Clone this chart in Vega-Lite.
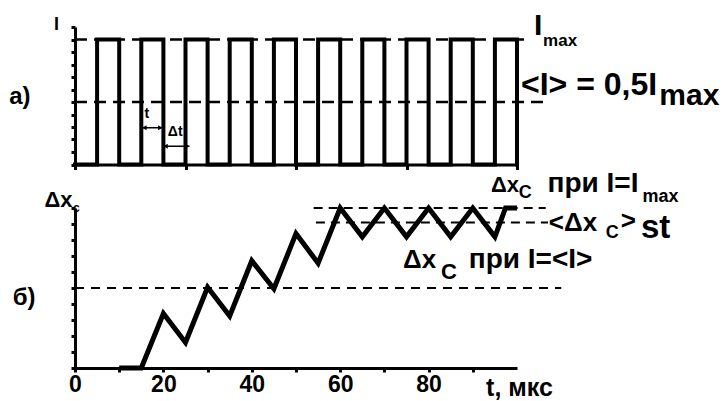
{
  "$schema": "https://vega.github.io/schema/vega-lite/v6.json",
  "background": "white",
  "padding": {"left": 9, "top": 10, "right": 0, "bottom": 0},
  "spacing": 43,
  "bounds": "flush",
  "config": {
    "view": {"stroke": null},
    "font": "Liberation Sans",
    "axis": {"grid": false, "domainColor": "black", "tickColor": "black", "domainWidth": 3, "tickWidth": 3, "labelColor": "black", "labelFont": "Liberation Sans", "labelFontWeight": "bold", "labelFontSize": 23, "title": null, "labelFlush": false, "labelOverlap": false},
    "text": {"font": "Liberation Sans", "fontWeight": "bold", "color": "black", "align": "left", "baseline": "alphabetic"}
  },
  "datasets": {
    "pulses": [
      {"i": 0, "t": 0, "v": 0}, {"i": 1, "t": 5, "v": 0}, {"i": 2, "t": 5, "v": 10}, {"i": 3, "t": 10, "v": 10}, {"i": 4, "t": 10, "v": 0},
      {"i": 5, "t": 15, "v": 0}, {"i": 6, "t": 15, "v": 10}, {"i": 7, "t": 20, "v": 10}, {"i": 8, "t": 20, "v": 0},
      {"i": 9, "t": 25, "v": 0}, {"i": 10, "t": 25, "v": 10}, {"i": 11, "t": 30, "v": 10}, {"i": 12, "t": 30, "v": 0},
      {"i": 13, "t": 35, "v": 0}, {"i": 14, "t": 35, "v": 10}, {"i": 15, "t": 40, "v": 10}, {"i": 16, "t": 40, "v": 0},
      {"i": 17, "t": 45, "v": 0}, {"i": 18, "t": 45, "v": 10}, {"i": 19, "t": 50, "v": 10}, {"i": 20, "t": 50, "v": 0},
      {"i": 21, "t": 55, "v": 0}, {"i": 22, "t": 55, "v": 10}, {"i": 23, "t": 60, "v": 10}, {"i": 24, "t": 60, "v": 0},
      {"i": 25, "t": 65, "v": 0}, {"i": 26, "t": 65, "v": 10}, {"i": 27, "t": 70, "v": 10}, {"i": 28, "t": 70, "v": 0},
      {"i": 29, "t": 75, "v": 0}, {"i": 30, "t": 75, "v": 10}, {"i": 31, "t": 80, "v": 10}, {"i": 32, "t": 80, "v": 0},
      {"i": 33, "t": 85, "v": 0}, {"i": 34, "t": 85, "v": 10}, {"i": 35, "t": 90, "v": 10}, {"i": 36, "t": 90, "v": 0},
      {"i": 37, "t": 95, "v": 0}, {"i": 38, "t": 95, "v": 10}, {"i": 39, "t": 100, "v": 10}, {"i": 40, "t": 100, "v": 0}
    ],
    "zigzag": [
      {"i": 0, "t": 10, "v": 0}, {"i": 1, "t": 15, "v": 0}, {"i": 2, "t": 20, "v": 3.4}, {"i": 3, "t": 25, "v": 1.6},
      {"i": 4, "t": 30, "v": 5.05}, {"i": 5, "t": 35, "v": 3.25}, {"i": 6, "t": 40, "v": 6.7}, {"i": 7, "t": 45, "v": 4.95},
      {"i": 8, "t": 50, "v": 8.4}, {"i": 9, "t": 55, "v": 6.55}, {"i": 10, "t": 60, "v": 10}, {"i": 11, "t": 65, "v": 8.2},
      {"i": 12, "t": 70, "v": 10}, {"i": 13, "t": 75, "v": 8.2}, {"i": 14, "t": 80, "v": 10}, {"i": 15, "t": 85, "v": 8.2},
      {"i": 16, "t": 90, "v": 10}, {"i": 17, "t": 95, "v": 8.2}, {"i": 18, "t": 97.4, "v": 10}, {"i": 19, "t": 100, "v": 10}
    ],
    "levelsTop": [{"t": 0, "t2": 102, "v": 10}, {"t": 0, "t2": 106, "v": 5}],
    "levelsBot": [{"t": 0, "t2": 110, "v": 5}],
    "levelsBot2": [{"t": 54, "t2": 106.5, "v": 10}, {"t": 54.5, "t2": 107, "v": 9.1}],
    "arrows": [{"t": 15.4, "t2": 19.6, "v": 2.94}, {"t": 20.2, "t2": 25.9, "v": 1.46}],
    "heads": [
      {"t": 15.7, "v": 2.94, "dir": "left"}, {"t": 19.3, "v": 2.94, "dir": "right"},
      {"t": 20.5, "v": 1.46, "dir": "left"}, {"t": 25.4, "v": 1.46, "dir": "right"}
    ],
    "topText14": [{"t": 15.7, "v": 3.76, "label": "t"}, {"t": 21, "v": 2.26, "label": "Δt"}],
    "topText17": [{"t": 105.9, "v": 9.52, "label": "max"}],
    "topText18": [{"t": -4.75, "v": 10.8, "label": "I"}],
    "topText24": [{"t": -14.9, "v": 4.88, "label": "а)"}],
    "topText30": [{"t": 103.85, "v": 10.4, "label": "I"}],
    "topText31": [{"t": 132.2, "v": 4.8, "label": "max"}],
    "topText32": [{"t": 100.9, "v": 5.6, "label": "<I> = 0,5I"}],
    "botText12": [{"t": -0.45, "v": 9.73, "label": "c"}],
    "botText18": [{"t": 100.4, "v": 10.6, "label": "C"}, {"t": 120.1, "v": 8.11, "label": "C"}, {"t": 128.4, "v": 10.38, "label": "max"}],
    "botText22": [{"t": -6.9, "v": 10.07, "label": "Δx"}, {"t": 82.8, "v": 5.54, "label": "C"}, {"t": 94.1, "v": 10.98, "label": "Δx"}],
    "botText24": [{"t": -14.1, "v": 3.92, "label": "б)"}],
    "botText25": [{"t": 93, "v": -1.72, "label": "t, мкс"}],
    "botText26": [{"t": 107.2, "v": 8.54, "label": "<Δx"}, {"t": 123.5, "v": 8.67, "label": ">"}, {"t": 74.2, "v": 6.23, "label": "Δx"}],
    "botText28": [{"t": 106.9, "v": 10.98, "label": "при I=I"}, {"t": 89.1, "v": 6.23, "label": "при I=<I>"}],
    "botText33": [{"t": 128.05, "v": 8.11, "label": "st"}]
  },
  "vconcat": [
    {
      "width": 442,
      "height": 137.5,
      "encoding": {
        "x": {"field": "t", "type": "quantitative", "scale": {"domain": [0, 100], "nice": false, "zero": false}, "axis": {"values": [0, 25, 50, 75, 100], "labels": false, "tickSize": 5}},
        "y": {"field": "v", "type": "quantitative", "scale": {"domain": [0, 11], "nice": false, "zero": false}, "axis": {"values": [0, 1, 2, 3, 4, 5, 6, 7, 8, 9, 10, 11], "labels": false, "tickSize": 4}}
      },
      "layer": [
        {"data": {"name": "levelsTop"}, "mark": {"type": "rule", "color": "black", "strokeWidth": 2.5, "strokeDash": [12, 7]}, "encoding": {"x2": {"field": "t2"}}},
        {"data": {"name": "pulses"}, "mark": {"type": "line", "color": "black", "strokeWidth": 4, "strokeJoin": "miter", "strokeCap": "square"}, "encoding": {"order": {"field": "i", "type": "quantitative"}}},
        {"data": {"name": "arrows"}, "mark": {"type": "rule", "color": "black", "strokeWidth": 1.5}, "encoding": {"x2": {"field": "t2"}}},
        {"data": {"name": "heads"}, "mark": {"type": "point", "filled": true, "color": "black", "size": 25, "opacity": 1}, "encoding": {"shape": {"field": "dir", "type": "nominal", "scale": {"domain": ["left", "right"], "range": ["triangle-left", "triangle-right"]}, "legend": null}}},
        {"data": {"name": "topText14"}, "mark": {"type": "text", "fontSize": 14}, "encoding": {"text": {"field": "label"}}},
        {"data": {"name": "topText17"}, "mark": {"type": "text", "fontSize": 17}, "encoding": {"text": {"field": "label"}}},
        {"data": {"name": "topText18"}, "mark": {"type": "text", "fontSize": 18}, "encoding": {"text": {"field": "label"}}},
        {"data": {"name": "topText24"}, "mark": {"type": "text", "fontSize": 24}, "encoding": {"text": {"field": "label"}}},
        {"data": {"name": "topText30"}, "mark": {"type": "text", "fontSize": 30}, "encoding": {"text": {"field": "label"}}},
        {"data": {"name": "topText31"}, "mark": {"type": "text", "fontSize": 30}, "encoding": {"text": {"field": "label"}}},
        {"data": {"name": "topText32"}, "mark": {"type": "text", "fontSize": 32}, "encoding": {"text": {"field": "label"}}}
      ]
    },
    {
      "width": 442,
      "height": 160,
      "encoding": {
        "x": {"field": "t", "type": "quantitative", "scale": {"domain": [0, 100], "nice": false, "zero": false}, "axis": {"values": [0, 10, 20, 30, 40, 50, 60, 70, 80, 90], "labelExpr": "datum.value % 20 == 0 ? datum.label : ''", "tickSize": 4, "labelPadding": 1}},
        "y": {"field": "v", "type": "quantitative", "scale": {"domain": [0, 10], "nice": false, "zero": false}, "axis": {"values": [0, 1, 2, 3, 4, 5, 6, 7, 8, 9, 10], "labels": false, "tickSize": 4}}
      },
      "layer": [
        {"data": {"name": "levelsBot"}, "mark": {"type": "rule", "color": "black", "strokeWidth": 2, "strokeDash": [9, 7]}, "encoding": {"x2": {"field": "t2"}}},
        {"data": {"name": "levelsBot2"}, "mark": {"type": "rule", "color": "black", "strokeWidth": 2, "strokeDash": [9, 6]}, "encoding": {"x2": {"field": "t2"}}},
        {"data": {"name": "zigzag"}, "mark": {"type": "line", "color": "black", "strokeWidth": 5, "strokeJoin": "miter"}, "encoding": {"order": {"field": "i", "type": "quantitative"}}},
        {"data": {"name": "botText12"}, "mark": {"type": "text", "fontSize": 12}, "encoding": {"text": {"field": "label"}}},
        {"data": {"name": "botText18"}, "mark": {"type": "text", "fontSize": 18}, "encoding": {"text": {"field": "label"}}},
        {"data": {"name": "botText22"}, "mark": {"type": "text", "fontSize": 22}, "encoding": {"text": {"field": "label"}}},
        {"data": {"name": "botText24"}, "mark": {"type": "text", "fontSize": 24}, "encoding": {"text": {"field": "label"}}},
        {"data": {"name": "botText25"}, "mark": {"type": "text", "fontSize": 25}, "encoding": {"text": {"field": "label"}}},
        {"data": {"name": "botText26"}, "mark": {"type": "text", "fontSize": 26}, "encoding": {"text": {"field": "label"}}},
        {"data": {"name": "botText28"}, "mark": {"type": "text", "fontSize": 28}, "encoding": {"text": {"field": "label"}}},
        {"data": {"name": "botText33"}, "mark": {"type": "text", "fontSize": 33}, "encoding": {"text": {"field": "label"}}}
      ]
    }
  ]
}
